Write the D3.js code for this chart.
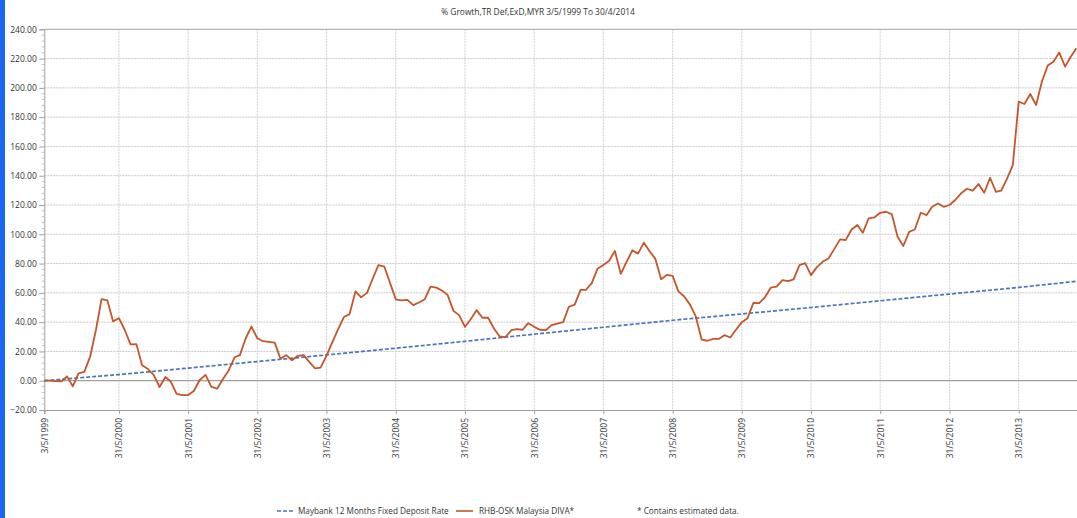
<!DOCTYPE html>
<html><head><meta charset="utf-8">
<script src="https://cdn.jsdelivr.net/npm/d3@7"></script>
<style>
html,body{margin:0;padding:0;background:#fff;}
svg{display:block;}
text{font-family:"Open Sans","Noto Sans",sans-serif;fill:#333;}
</style></head>
<body>
<script>
// ---- data ----
const title = "% Growth,TR Def,ExD,MYR 3/5/1999 To 30/4/2014";
const seriesNames = ["Maybank 12 Months Fixed Deposit Rate", "RHB-OSK Malaysia DIVA*"];
const footnote = "* Contains estimated data.";
const startDate = "1999-05-03";
const endDate = "2014-04-30";
// RHB-OSK Malaysia DIVA: % growth at 3/5/1999, then month-end values May 1999 .. Mar 2014
const fundValues = [
  0, 0, -0.3, -0.5, 3, -3.9, 5, 6, 16.5, 35, 55.7, 54.8, 40.5,
  42.7, 34.8, 24.8, 25, 10.5, 8, 4, -4.3, 2.5, -0.5, -9, -9.8,
  -9.8, -7, 0.5, 4, -4, -5.5, 1, 7, 16, 17.5, 29, 37,
  29, 27, 26.5, 26, 15, 17.5, 14, 17, 17.5, 13, 8.5, 9,
  17, 26, 35, 43.5, 45.5, 61, 57, 60, 70, 79, 78, 67,
  55.5, 54.8, 55.2, 51.6, 53.4, 55.7, 64.3, 63.6, 61.4, 58.6, 47.7, 44.8,
  36.8, 42, 48.2, 43, 43, 35.7, 30.2, 29.8, 34.5, 35.2, 34.8, 39.3,
  36.8, 34.8, 34.5, 38, 39, 40, 50.5, 52, 62, 62, 66.6, 76.4,
  79, 81.8, 88.6, 73, 81, 89, 86.8, 94.3, 88.2, 83.4, 69.3, 72.3,
  71.6, 61, 57.5, 51.8, 43.9, 28, 27.3, 28.6, 28.6, 31.1, 29.5, 34.8,
  40, 42.7, 53.2, 53, 57, 63.6, 64.3, 68.7, 68, 69.2, 79, 80.3,
  72.1, 77.4, 81.2, 83.5, 89.7, 96.5, 96, 103.3, 106.3, 101, 110.8, 111.5,
  114.7, 115.4, 113.8, 98.3, 92, 101.7, 103.3, 114.7, 113.1, 118.8, 121, 118.8,
  120, 123.4, 128, 131.1, 129.8, 134.3, 128.4, 138.6, 129, 129.8, 138.2, 147.3,
  190.6, 189, 195.8, 188.3, 204.2, 215.2, 217.9, 224.1, 214.5, 220.9, 227
];
// Maybank 12 Months FD: values read at the yearly points
const depositDates = ["1999-05-03","2000-05-31","2001-05-31","2002-05-31","2003-05-31","2004-05-31",
  "2005-05-31","2006-05-31","2007-05-31","2008-05-31","2009-05-31","2010-05-31","2011-05-31",
  "2012-05-31","2013-05-31","2014-04-30"];
const depositValues = [0, 4.2, 8.6, 13.1, 17.6, 22.2, 26.9, 31.8, 36.5, 41.3, 45.6, 50.0, 54.6, 59.2, 63.7, 68.3];
const xTickLabels = ["3/5/1999","31/5/2000","31/5/2001","31/5/2002","31/5/2003","31/5/2004","31/5/2005",
  "31/5/2006","31/5/2007","31/5/2008","31/5/2009","31/5/2010","31/5/2011","31/5/2012","31/5/2013"];
const yTicks = [-20, 0, 20, 40, 60, 80, 100, 120, 140, 160, 180, 200, 220, 240];

// ---- layout ----
const W = 1077, H = 518;
const M = {left: 44.3, top: 29.3, bottom: 410, right: 1082};
const parse = d3.timeParse("%Y-%m-%d");
const parseDMY = d3.timeParse("%d/%m/%Y");

const fundData = fundValues.map((v, i) => ({
  date: i === 0 ? parse(startDate) : new Date(1999, 4 + i, 0),
  value: v
}));
const depData = depositDates.map((d, i) => ({date: parse(d), value: depositValues[i]}));

const x = d3.scaleTime().domain([parse(startDate), parse(endDate)]).range([M.left, M.right]);
const y = d3.scaleLinear().domain([-20, 240]).range([M.bottom, M.top]);

const svg = d3.select("body").append("svg").attr("width", W).attr("height", H);
svg.append("rect").attr("width", W).attr("height", H).attr("fill", "#fff");

// left blue frame bar
svg.append("rect").attr("x", 0).attr("y", 0).attr("width", 5).attr("height", H).attr("fill", "#1a66f2");

// title
svg.append("text").attr("x", 538).attr("y", 15).attr("text-anchor", "middle")
  .style("font-size", "8.4px").text(title);

// horizontal grid
const gGrid = svg.append("g");
gGrid.selectAll("line.h").data(yTicks.filter(t => t !== 0 && t !== -20 && t !== 240)).join("line")
  .attr("x1", M.left).attr("x2", W).attr("y1", d => y(d)).attr("y2", d => y(d))
  .attr("stroke", "#c8c8c8").attr("stroke-width", 1).attr("stroke-dasharray", "2,1");
const tickDates = xTickLabels.map(s => parseDMY(s));
gGrid.selectAll("line.v").data(tickDates.slice(1)).join("line")
  .attr("x1", d => x(d)).attr("x2", d => x(d)).attr("y1", M.top).attr("y2", M.bottom)
  .attr("stroke", "#cfcfcf").attr("stroke-width", 1).attr("stroke-dasharray", "2,1");

// frame lines
svg.append("line").attr("x1", M.left).attr("x2", W).attr("y1", y(240)).attr("y2", y(240))
  .attr("stroke", "#b5b5b5").attr("stroke-width", 1.2);
svg.append("line").attr("x1", M.left).attr("x2", W).attr("y1", y(0)).attr("y2", y(0))
  .attr("stroke", "#a0a0a0").attr("stroke-width", 1.2);

// y axis
const yAxis = d3.axisLeft(y).tickValues(yTicks).tickSize(5).tickFormat(d3.format(".2f"));
const gy = svg.append("g").attr("transform", `translate(${M.left},0)`).call(yAxis);
gy.select(".domain").attr("stroke", "#a0a0a0");
gy.selectAll(".tick line").attr("stroke", "#a0a0a0");
gy.selectAll(".tick text").attr("x", -7.5).style("font-size", "8.5px").style("font-family", '"Open Sans",sans-serif').attr("fill", "#333");
const minor = d3.range(-20, 240.01, 4).filter(v => v % 20 !== 0);
svg.append("g").selectAll("line").data(minor).join("line")
  .attr("x1", M.left - 2.5).attr("x2", M.left).attr("y1", d => y(d)).attr("y2", d => y(d))
  .attr("stroke", "#b0b0b0").attr("stroke-width", 0.8);

// x axis
const xAxis = d3.axisBottom(x).tickValues(tickDates).tickSize(4)
  .tickFormat((d, i) => xTickLabels[i]);
const gx = svg.append("g").attr("transform", `translate(0,${M.bottom})`).call(xAxis);
gx.select(".domain").attr("stroke", "#a0a0a0").attr("stroke-width", 1.2);
gx.selectAll(".tick line").attr("stroke", "#a0a0a0");
gx.selectAll(".tick text")
  .attr("transform", "rotate(-90)")
  .attr("x", -8).attr("y", 0).attr("dy", "0.35em")
  .attr("text-anchor", "end")
  .style("font-size", "8.5px").style("font-family", '"Open Sans",sans-serif').attr("fill", "#333");

// lines
const line = d3.line().x(d => x(d.date)).y(d => y(d.value));
svg.append("path").datum(depData).attr("d", line).attr("fill", "none")
  .attr("stroke", "#4a74c0").attr("stroke-width", 1.7).attr("stroke-dasharray", "4,2");
svg.append("path").datum(fundData).attr("d", line).attr("fill", "none")
  .attr("stroke", "#c5552a").attr("stroke-width", 1.8).attr("stroke-linejoin", "round");

// legend
const lg = svg.append("g");
lg.append("line").attr("x1", 277).attr("x2", 293).attr("y1", 511).attr("y2", 511)
  .attr("stroke", "#4a74c0").attr("stroke-width", 1.5).attr("stroke-dasharray", "4,2");
lg.append("text").attr("x", 298).attr("y", 514).style("font-size", "8.2px").text(seriesNames[0]);
lg.append("line").attr("x1", 456).attr("x2", 473).attr("y1", 511).attr("y2", 511)
  .attr("stroke", "#c5552a").attr("stroke-width", 1.6);
lg.append("text").attr("x", 479).attr("y", 514).style("font-size", "8.2px").text(seriesNames[1]);
lg.append("text").attr("x", 637).attr("y", 514).style("font-size", "8.2px").text(footnote);
</script>
</body></html>
